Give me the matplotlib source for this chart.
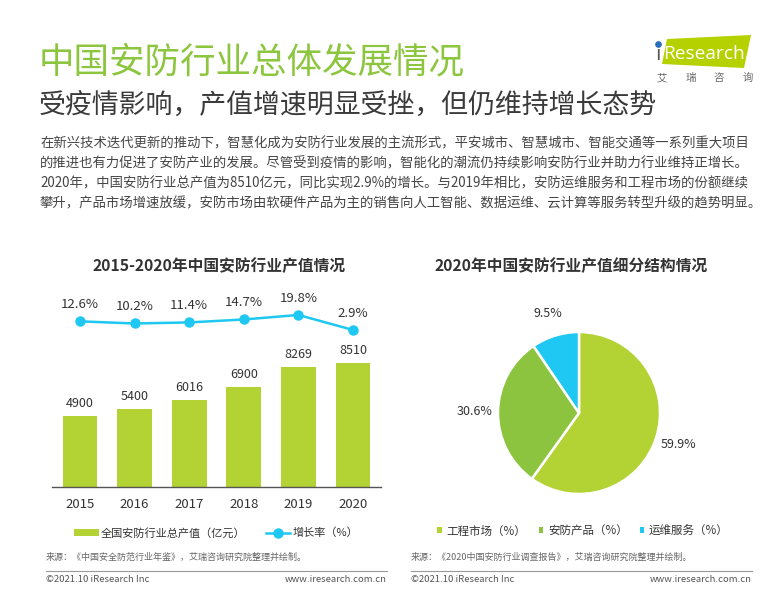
import matplotlib
matplotlib.use('Agg')
import matplotlib.pyplot as plt
from matplotlib.patches import Polygon, Rectangle
from matplotlib.lines import Line2D

plt.rcParams['font.family'] = ['Noto Sans CJK SC', 'DejaVu Sans']
plt.rcParams['axes.unicode_minus'] = False

# 数据
years = ['2015', '2016', '2017', '2018', '2019', '2020']
output_value = [4900, 5400, 6016, 6900, 8269, 8510]
growth_rate = [12.6, 10.2, 11.4, 14.7, 19.8, 2.9]

pie_labels = ['工程市场（%）', '安防产品（%）', '运维服务（%）']
pie_share = [59.9, 30.6, 9.5]

GREEN = '#b3d234'
GREEN2 = '#8cc43f'
CYAN = '#1ec8f2'
W, H = 769, 590


def fx(x):
    return x / W


def fy(y):
    return 1 - y / H


fig = plt.figure(figsize=(W / 100, H / 100), dpi=100)

# 标题区
fig.text(fx(39), fy(62), '中国安防行业总体发展情况', fontsize=25.6, color='#8cc63f', va='center')
fig.text(fx(39), fy(105), '受疫情影响，产值增速明显受挫，但仍维持增长态势', fontsize=19.4,
         color='#3a3a3a', va='center')

para = [
    '在新兴技术迭代更新的推动下，智慧化成为安防行业发展的主流形式，平安城市、智慧城市、智能交通等一系列重大项目',
    '的推进也有力促进了安防产业的发展。尽管受到疫情的影响，智能化的潮流仍持续影响安防行业并助力行业维持正增长。',
    '2020年，中国安防行业总产值为8510亿元，同比实现2.9%的增长。与2019年相比，安防运维服务和工程市场的份额继续',
    '攀升，产品市场增速放缓，安防市场由软硬件产品为主的销售向人工智能、数据运维、云计算等服务转型升级的趋势明显。',
]
for i, line in enumerate(para):
    fig.text(fx(40), fy(143 + 20 * i), line, fontsize=9.6, color='#444444', va='center')

# logo
fig.patches.append(Polygon([[fx(667), fy(39)], [fx(751), fy(35)], [fx(744), fy(68)], [fx(662), fy(64)]],
                           closed=True, facecolor='#b5d100', edgecolor='none', transform=fig.transFigure))
fig.text(fx(657.5), fy(55), 'ı', fontsize=14.5, color='#555555', va='center', ha='center',
         family='DejaVu Sans')
fig.add_artist(Line2D([fx(657.5)], [fy(44)], marker='o', markersize=3.8, color='#2a6ebb', lw=0))
fig.text(fx(663), fy(54), 'Research', fontsize=13.8, color='white', va='center', family='Open Sans')
for i, ch in enumerate('艾瑞咨询'):
    fig.text(fx(662 + 28.5 * i), fy(78), ch, fontsize=7.5, color='#666666', va='center', ha='center')

# 左图：柱状图 + 增长率
fig.text(fx(219), fy(266), '2015-2020年中国安防行业产值情况', fontsize=11.3, fontweight='bold',
         color='#333333', ha='center', va='center')

ax = fig.add_axes([fx(52), fy(487), 329 / W, 197 / H])
x = range(len(years))
ax.bar(x, output_value, width=0.64, color=GREEN)
for xi, v in zip(x, output_value):
    ax.annotate(str(v), (xi, v), xytext=(0, 9), textcoords='offset points', ha='center',
                va='center', fontsize=9, color='#333333')
ax.set_xlim(-0.513, 5.513)
ax.set_ylim(0, 13560)
ax.set_xticks(list(x))
ax.set_xticklabels(years, fontsize=9.5, color='#333333')
ax.tick_params(axis='x', length=0, pad=8)
ax.set_yticks([])
for s in ['top', 'right', 'left']:
    ax.spines[s].set_visible(False)
ax.spines['bottom'].set_color('#555555')
ax.spines['bottom'].set_linewidth(1)

ax2 = ax.twinx()
ax2.plot(list(x), growth_rate, color=CYAN, lw=1.8, marker='o', markersize=6.5)
for xi, v in zip(x, growth_rate):
    ax2.annotate(f'{v}%', (xi, v), xytext=(0, 12), textcoords='offset points', ha='center',
                 va='center', fontsize=9.5, color='#333333')
ax2.set_ylim(-173.9, 47.9)
ax2.set_yticks([])
for s in ['top', 'right', 'left', 'bottom']:
    ax2.spines[s].set_visible(False)

h_bar = Rectangle((0, 0), 1, 1, facecolor=GREEN)
h_line = Line2D([], [], color=CYAN, lw=1.8, marker='o', markersize=6.5)
fig.legend([h_bar, h_line], ['全国安防行业总产值（亿元）', '增长率（%）'], loc='center',
           bbox_to_anchor=(fx(216), fy(533)), ncol=2, frameon=False, fontsize=8,
           handlelength=2.2, handleheight=0.65, handletextpad=0.15, columnspacing=1.9,
           labelcolor='#333333')

# 右图：饼图
fig.text(fx(571), fy(266), '2020年中国安防行业产值细分结构情况', fontsize=11.3, fontweight='bold',
         color='#333333', ha='center', va='center')
axp = fig.add_axes([fx(579 - 81), fy(413 + 81), 162 / W, 162 / H])
wedges, texts, autotexts = axp.pie(pie_share, colors=[GREEN, GREEN2, CYAN], startangle=90,
                                   counterclock=False, autopct='%1.1f%%', pctdistance=1.29,
                                   wedgeprops=dict(edgecolor='white', linewidth=1.8),
                                   textprops=dict(fontsize=9, color='#333333'))
axp.set_xlim(-1, 1)
axp.set_ylim(-1, 1)
axp.set_aspect('equal')

sq = [Rectangle((0, 0), 1, 1, facecolor=c) for c in [GREEN, GREEN2, CYAN]]
fig.legend(sq, pie_labels, loc='center', bbox_to_anchor=(fx(583), fy(531)), ncol=3,
           frameon=False, fontsize=8.3, handlelength=0.4, handleheight=0.4, handletextpad=0.4,
           columnspacing=1.05, labelcolor='#333333')

# 来源与页脚
fig.text(fx(46), fy(557), '来源：《中国安全防范行业年鉴》，艾瑞咨询研究院整理并绘制。', fontsize=6.5,
         color='#666666', va='center')
fig.text(fx(411), fy(557), '来源：《2020中国安防行业调查报告》，艾瑞咨询研究院整理并绘制。', fontsize=6.5,
         color='#666666', va='center')
for x0, x1 in [(46, 387), (411, 752)]:
    fig.add_artist(Line2D([fx(x0), fx(x1)], [fy(571), fy(571)], color='#999999', lw=0.8))
    fig.text(fx(x0), fy(580), '©2021.10 iResearch Inc', fontsize=6.8, color='#555555', va='center')
    fig.text(fx(x1), fy(580), 'www.iresearch.com.cn', fontsize=6.8, color='#555555', va='center',
             ha='right')

fig.savefig('out.png', dpi=100, facecolor='white')
